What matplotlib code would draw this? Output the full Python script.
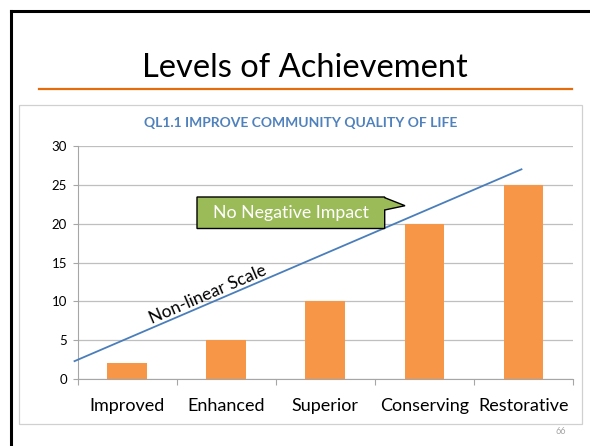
import matplotlib.pyplot as plt
from matplotlib.patches import Polygon, Rectangle
from matplotlib.lines import Line2D

plt.rcParams['font.family'] = ['Lato', 'DejaVu Sans']

# --- data ---
categories = ["Improved", "Enhanced", "Superior", "Conserving", "Restorative"]
values = [2, 5, 10, 20, 25]
y_ticks = [0, 5, 10, 15, 20, 25, 30]

# trend line drawn over the bars (category index, value)
trend_x = [-0.53, 3.98]
trend_y = [2.3, 27.0]

W, H = 590, 446
fig = plt.figure(figsize=(W / 100, H / 100), dpi=100)


def fx(px):
    return px / W


def fy(py):
    return 1 - py / H


# slide frame (left and top)
fig.add_artist(Line2D([fx(11), fx(11)], [fy(11), 0], color="black", lw=2.2))
fig.add_artist(Line2D([fx(11), 1], [fy(11), fy(11)], color="black", lw=2.2))

# slide title + orange rule
fig.text(fx(305), fy(68), "Levels of Achievement", ha="center", va="center",
         fontsize=23.5, color="black")
fig.add_artist(Line2D([fx(39), fx(572)], [fy(89), fy(89)], color="#E46C0A", lw=1.6))

# chart area border
fig.add_artist(Rectangle((fx(19), fy(424)), fx(582) - fx(19), fy(105) - fy(424),
                         fill=False, edgecolor="#D0D0D0", lw=0.9))
fig.text(fx(301), fy(123), "QL1.1 IMPROVE COMMUNITY QUALITY OF LIFE", ha="center",
         va="center", fontsize=10, fontweight="bold", color="#4F81BD")

ax = fig.add_axes([fx(77.5), fy(379), fx(573) - fx(77.5), fy(146) - fy(379)])
x = list(range(len(categories)))
ax.bar(x, values, width=0.4, color="#F79646", zorder=2)
ax.set_xlim(-0.5, len(categories) - 0.5)
ax.set_ylim(0, 30)
ax.set_yticks(y_ticks)
ax.set_xticks(x)
ax.set_xticklabels(categories, fontsize=13)
ax.set_xticks([i - 0.5 for i in range(len(categories) + 1)], minor=True)
ax.tick_params(axis="x", which="major", length=0, pad=14)
ax.tick_params(axis="x", which="minor", length=4.5, color="#A6A6A6", width=0.8)
ax.tick_params(axis="y", length=3.5, color="#A6A6A6", width=0.8, labelsize=9.5, pad=4)
ax.grid(axis="y", color="#BFBFBF", lw=0.9, zorder=0)
ax.set_axisbelow(True)
for s in ["top", "right"]:
    ax.spines[s].set_visible(False)
for s in ["left", "bottom"]:
    ax.spines[s].set_color("#A6A6A6")
    ax.spines[s].set_linewidth(0.8)

ax.plot(trend_x, trend_y, color="#4A7EBB", lw=1.3, clip_on=False, zorder=3)
fig.text(fx(208), fy(294), "Non-linear Scale", ha="center", va="center",
         rotation=23.3, rotation_mode="anchor", fontsize=12.5, color="black")

# callout
callout = [(197, 197), (384.7, 197), (384.7, 197.7), (405, 205.7), (384.7, 210),
           (384.7, 228.5), (197, 228.5)]
fig.add_artist(Polygon([(fx(a), fy(b)) for a, b in callout], closed=True,
                       facecolor="#9BBB59", edgecolor="black", lw=1.0))
fig.text(fx(291), fy(213), "No Negative Impact", ha="center", va="center",
         fontsize=12.8, color="white")

fig.text(fx(561), fy(432), "66", ha="center", va="center", fontsize=6.5, color="#A6A6A6")

fig.savefig("out.png", dpi=100)
